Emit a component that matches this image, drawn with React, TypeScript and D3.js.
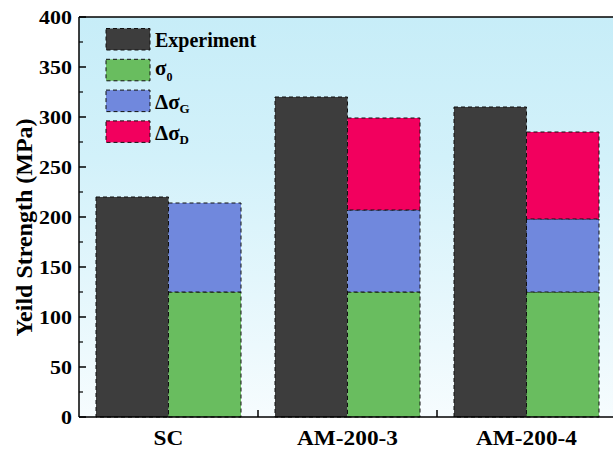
import React from "react";
import * as d3 from "d3";

const categories = ["SC", "AM-200-3", "AM-200-4"];
const experiment = [220, 320, 310];
const sigma0 = [125, 125, 125];
const dSigmaG = [89, 82, 73];
const dSigmaD = [0, 92, 87];
const yTicks = [0, 50, 100, 150, 200, 250, 300, 350, 400];

const W = 613, H = 450;
const left = 79, top = 17, bottom = 417;

export default function App() {
  const x = d3.scaleLinear().domain([0.5, 3.5]).range([left, left + 537]);
  const y = d3.scaleLinear().domain([0, 400]).range([bottom, top]);
  const bw = 72.5;
  const colors = { exp: "#3d3d3d", s0: "#69bd5f", g: "#7088dd", d: "#f2005e" };
  const fstyle = {
    fontFamily: "'Liberation Serif', 'DejaVu Serif', 'Times New Roman', Times, serif",
    fontWeight: 700,
  } as React.CSSProperties;

  const stacks = categories.map((_, i) => {
    const segs: { y0: number; y1: number; c: string }[] = [];
    let base = 0;
    [[sigma0[i], colors.s0], [dSigmaG[i], colors.g], [dSigmaD[i], colors.d]].forEach(([v, c]) => {
      if ((v as number) > 0) {
        segs.push({ y0: base, y1: base + (v as number), c: c as string });
        base += v as number;
      }
    });
    return segs;
  });

  const minorTicks = d3.range(25, 400, 50);

  return (
    <svg width={W} height={H} style={{ position: "absolute", left: 0, top: 0, background: "#fff" }}>
      <defs>
        <linearGradient id="bg" x1="0" y1="0" x2="0" y2="1">
          <stop offset="0" stopColor="#c7edf8" />
          <stop offset="0.35" stopColor="#d2f1fa" />
          <stop offset="1" stopColor="#f6fcfe" />
        </linearGradient>
      </defs>
      <rect x={left} y={top} width={W - left} height={bottom - top} fill="url(#bg)" />
      {categories.map((c, i) => (
        <g key={c}>
          <rect
            x={x(i + 1) - bw}
            y={y(experiment[i])}
            width={bw}
            height={y(0) - y(experiment[i])}
            fill={colors.exp}
            stroke="#111"
            strokeWidth={1}
            strokeDasharray="4,3"
          />
          {stacks[i].map((s, j) => (
            <rect
              key={j}
              x={x(i + 1)}
              y={y(s.y1)}
              width={bw}
              height={y(s.y0) - y(s.y1)}
              fill={s.c}
              stroke="#111"
              strokeWidth={1}
              strokeDasharray="4,3"
            />
          ))}
        </g>
      ))}
      <line x1={left} y1={top} x2={W} y2={top} stroke="#000" strokeWidth={1.5} />
      <line x1={left} y1={bottom} x2={W} y2={bottom} stroke="#000" strokeWidth={1.5} />
      <line x1={left} y1={top} x2={left} y2={bottom} stroke="#000" strokeWidth={1.5} />
      {yTicks.map((t) => (
        <g key={t}>
          <line x1={left} x2={left + 7} y1={y(t)} y2={y(t)} stroke="#000" strokeWidth={1.5} />
          <text
            transform={`translate(${left - 7},${y(t) + 6.5}) scale(1.22,1)`}
            textAnchor="end"
            style={fstyle}
            fontSize={18}
          >
            {t}
          </text>
        </g>
      ))}
      {minorTicks.map((t) => (
        <line key={t} x1={left} x2={left + 4} y1={y(t)} y2={y(t)} stroke="#000" strokeWidth={1.2} />
      ))}
      {[1.5, 2.5].map((t) => (
        <line key={t} x1={x(t)} x2={x(t)} y1={bottom} y2={bottom - 7} stroke="#000" strokeWidth={1.5} />
      ))}
      {categories.map((c, i) => (
        <text
          key={c}
          transform={`translate(${x(i + 1)},445) scale(1.06,1)`}
          textAnchor="middle"
          style={fstyle}
          fontSize={22}
        >
          {c}
        </text>
      ))}
      <text
        transform={`translate(32,${(113 + 342) / 2}) rotate(-90)`}
        textAnchor="middle"
        style={fstyle}
        fontSize={24}
      >
        Yeild Strength (MPa)
      </text>
      {[colors.exp, colors.s0, colors.g, colors.d].map((c, i) => (
        <rect
          key={i}
          x={106}
          y={28.5 + i * 30.8}
          width={44}
          height={21.5}
          fill={c}
          stroke="#111"
          strokeWidth={1}
          strokeDasharray="4,3"
        />
      ))}
      <text x={155} y={46.5} style={fstyle} fontSize={20}>
        Experiment
      </text>
      <text x={155} y={75} style={fstyle} fontSize={21}>
        σ<tspan fontSize={12} dy={6}>0</tspan>
      </text>
      <text x={155} y={109} style={fstyle} fontSize={21}>
        Δσ<tspan fontSize={13} dy={4}>G</tspan>
      </text>
      <text x={155} y={140} style={fstyle} fontSize={21}>
        Δσ<tspan fontSize={13} dy={4}>D</tspan>
      </text>
    </svg>
  );
}
